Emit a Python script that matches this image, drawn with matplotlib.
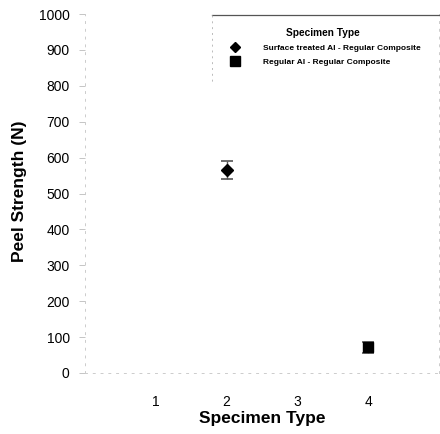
import matplotlib
matplotlib.use("Agg")
import matplotlib.pyplot as plt
from matplotlib.lines import Line2D

plt.rcParams['font.family'] = ['Liberation Sans', 'DejaVu Sans']

# Data
series_labels = ["Surface treated Al - Regular Composite", "Regular Al - Regular Composite"]
x_pos = [2, 4]
peel_strength = [565, 72]
peel_err = [25, 15]
markers = ["D", "s"]
x_ticks = [1, 2, 3, 4]
y_ticks = [0, 100, 200, 300, 400, 500, 600, 700, 800, 900, 1000]

fig = plt.figure(figsize=(4.4, 4.34), dpi=100)
ax = fig.add_axes([85/440, 1-373/434, 354/440, (373-14)/434])

handles = []
for xi, yi, ei, m, lab in zip(x_pos, peel_strength, peel_err, markers, series_labels):
    ax.errorbar([xi], [yi], yerr=[ei], fmt='none', ecolor='#555555',
                elinewidth=1.0, capsize=4.5, capthick=1.2, zorder=2)
    ax.plot([xi], [yi], marker=m, color='black', markersize=6 if m == 'D' else 7,
            linestyle='none', zorder=3)
    handles.append(Line2D([], [], marker=m, color='black', linestyle='none',
                          markersize=5.5 if m == 'D' else 7, label=lab))

ax.set_xlim(0, 5)
ax.set_ylim(0, 1000)
ax.set_xticks(x_ticks)
ax.set_yticks(y_ticks)
ax.tick_params(axis='both', labelsize=10, color='#bbbbbb', length=4, width=0.6)
ax.tick_params(axis='y', pad=7)
ax.tick_params(axis='x', length=0, pad=15.5)
ax.spines['top'].set_visible(False)
for s in ['left', 'bottom', 'right']:
    ax.spines[s].set_color('#cccccc')
    ax.spines[s].set_linestyle((0, (2, 6)))
    ax.spines[s].set_linewidth(0.7)

ax.set_xlabel("Specimen Type", fontsize=12.5, fontweight='bold')
ax.set_ylabel("Peel Strength (N)", fontsize=12.5, fontweight='bold')
ax.yaxis.set_label_coords((27-85)/354, 0.506)
ax.xaxis.set_label_coords(0.5, -(411-373)/359)
ax.xaxis.label.set_va('top')

leg = ax.legend(handles=handles, loc='upper left', bbox_to_anchor=(212/440, 1-15/434),
                bbox_transform=fig.transFigure, frameon=False, borderaxespad=0,
                borderpad=1.5, handlelength=2.5, handletextpad=2.1, labelspacing=0.77,
                title="Specimen Type",
                prop={'family': ['Liberation Sans Narrow', 'Liberation Sans'],
                      'size': 6, 'weight': 'bold'},
                title_fontproperties={'family': ['Liberation Sans'],
                                      'size': 7.3, 'weight': 'bold'})

# legend frame fragments (top solid, left faint)
fig.add_artist(Line2D([212/440, 1.0], [1-15/434, 1-15/434], transform=fig.transFigure,
                      color='#555555', linewidth=0.9))
fig.add_artist(Line2D([212/440, 212/440], [1-15/434, 1-85/434], transform=fig.transFigure,
                      color='#bbbbbb', linewidth=0.7, linestyle=(0, (2, 4))))

fig.savefig("out.png", dpi=100)
